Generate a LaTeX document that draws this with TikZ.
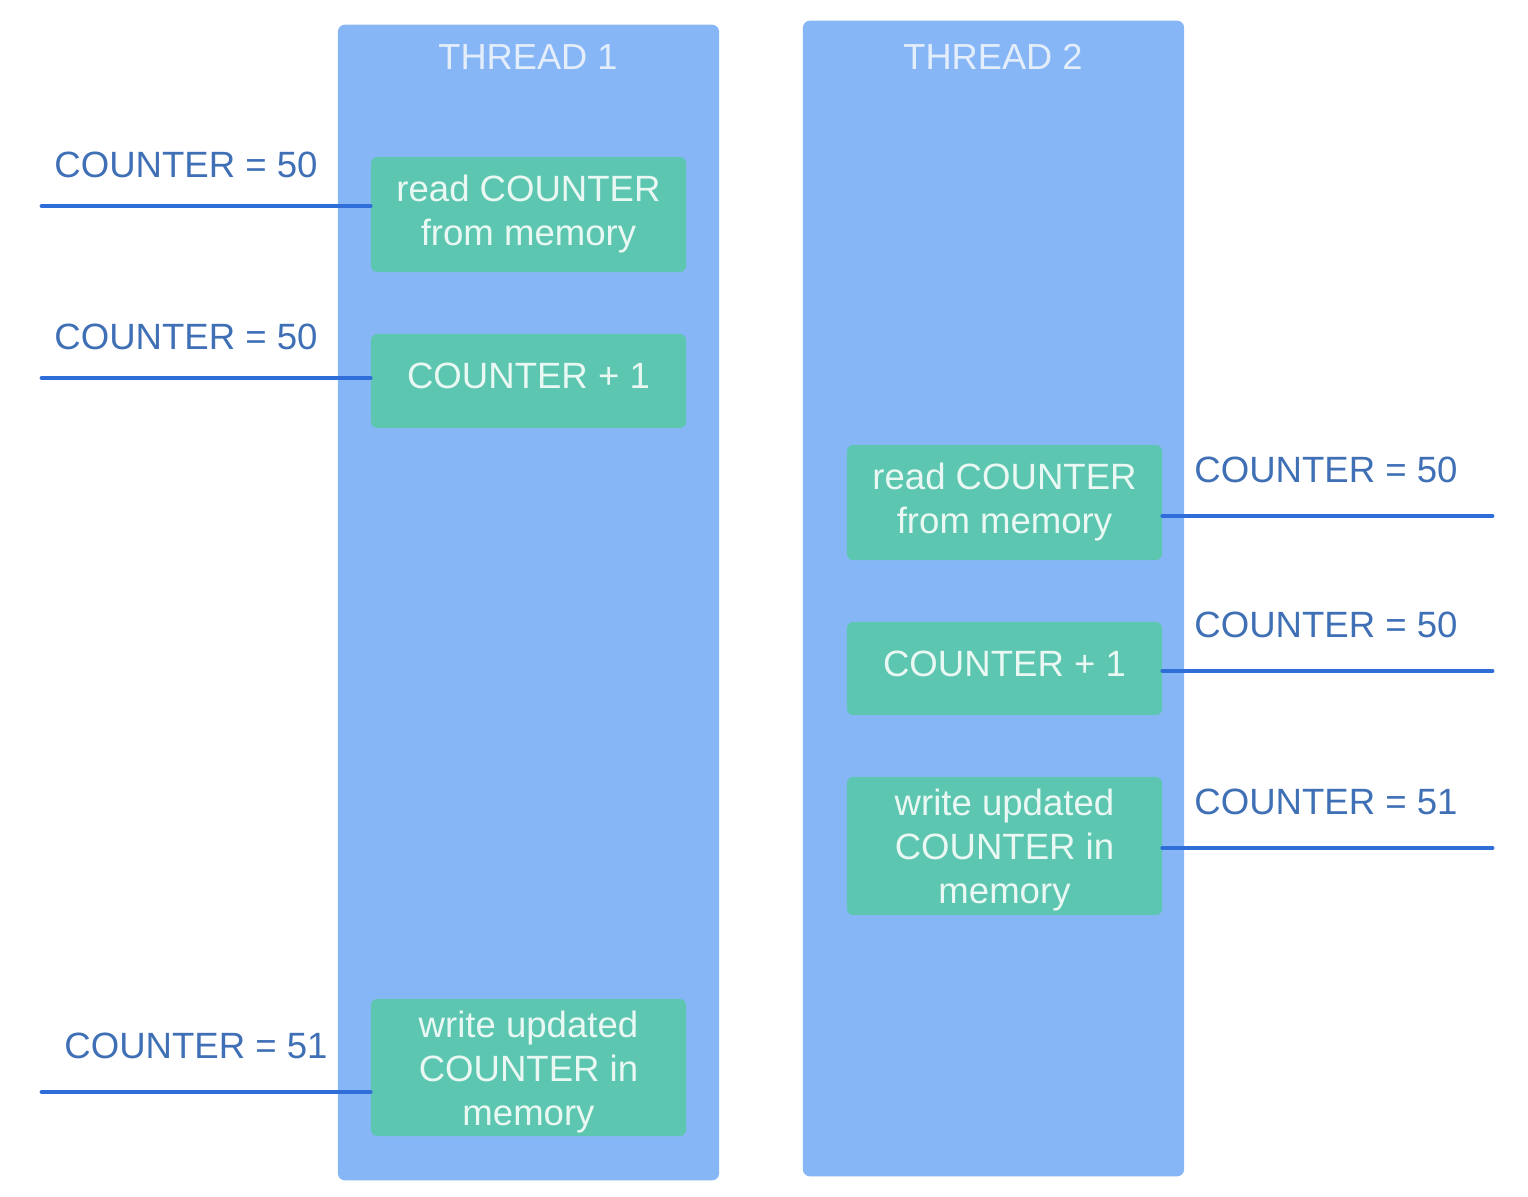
\documentclass[tikz,border=0pt]{standalone}
\usepackage{fontspec}
\setmainfont{Liberation Sans}
\definecolor{threadblue}{HTML}{87B6F7}
\definecolor{stepgreen}{HTML}{5CC6B0}
\definecolor{wireblue}{HTML}{2F6ED8}
\definecolor{labelblue}{HTML}{3F6FB5}
\definecolor{boxtext}{HTML}{EAF8F3}
\definecolor{titletext}{HTML}{E4EEFB}
\begin{document}
\begin{tikzpicture}[x=0.01cm,y=-0.01cm,
  thread/.style={fill=threadblue, rounded corners=2pt, minimum width=3.81cm,
    minimum height=11.55cm, inner sep=0pt},
  title/.style={text=titletext, inner sep=0pt, font=\fontsize{10.3}{12.5}\selectfont},
  stepbox/.style={fill=stepgreen, rounded corners=1.8pt, minimum width=3.15cm,
    align=center, inner sep=0pt, text=boxtext, font=\fontsize{10.4}{12.5}\selectfont},
  wire/.style={draw=wireblue, line width=1.4pt, line cap=round},
  value/.style={text=labelblue, inner sep=0pt, font=\fontsize{10.4}{12.5}\selectfont}]
  \useasboundingbox (0,0) rectangle (1528,1196);

  % the two thread columns
  \node[thread] (t1) at (528.5,602.5) {};
  \node[thread] (t2) at (993.5,598.5) {};
  \node[title] (t1title) at (528,57) {THREAD 1};
  \node[title] (t2title) at (993,57) {THREAD 2};

  % steps of thread 1
  \node[stepbox, minimum height=1.15cm] (a1) at (528.5,214.5) {read COUNTER\\from memory};
  \node[stepbox, minimum height=0.94cm, text depth=0.1cm] (a2) at (528.5,381) {COUNTER + 1};
  \node[stepbox, minimum height=1.37cm] (a3) at (528.5,1067.5) {\rule{0pt}{0.35cm}write updated\\COUNTER in\\memory};

  % steps of thread 2
  \node[stepbox, minimum height=1.15cm] (b1) at (1004.5,502.5) {read COUNTER\\from memory};
  \node[stepbox, minimum height=0.93cm, text depth=0.1cm] (b2) at (1004.5,668.5) {COUNTER + 1};
  \node[stepbox, minimum height=1.38cm] (b3) at (1004.5,846) {\rule{0pt}{0.35cm}write updated\\COUNTER in\\memory};

  % counter values seen by thread 1
  \coordinate (w1) at (42,206);
  \coordinate (w2) at (42,378);
  \coordinate (w3) at (42,1092);
  \draw[wire] (w1) -- (w1 -| a1.west);
  \draw[wire] (w2) -- (w2 -| a2.west);
  \draw[wire] (w3) -- (w3 -| a3.west);
  \node[value] (v1) at (186,165) {COUNTER = 50};
  \node[value] (v2) at (186,337) {COUNTER = 50};
  \node[value] (v3) at (196,1046) {COUNTER = 51};

  % counter values seen by thread 2
  \coordinate (e1) at (1492,516);
  \coordinate (e2) at (1492,671);
  \coordinate (e3) at (1492,848);
  \draw[wire] (b1.east |- e1) -- (e1);
  \draw[wire] (b2.east |- e2) -- (e2);
  \draw[wire] (b3.east |- e3) -- (e3);
  \node[value] (u1) at (1326,470) {COUNTER = 50};
  \node[value] (u2) at (1326,625) {COUNTER = 50};
  \node[value] (u3) at (1326,802) {COUNTER = 51};
\end{tikzpicture}
\end{document}
